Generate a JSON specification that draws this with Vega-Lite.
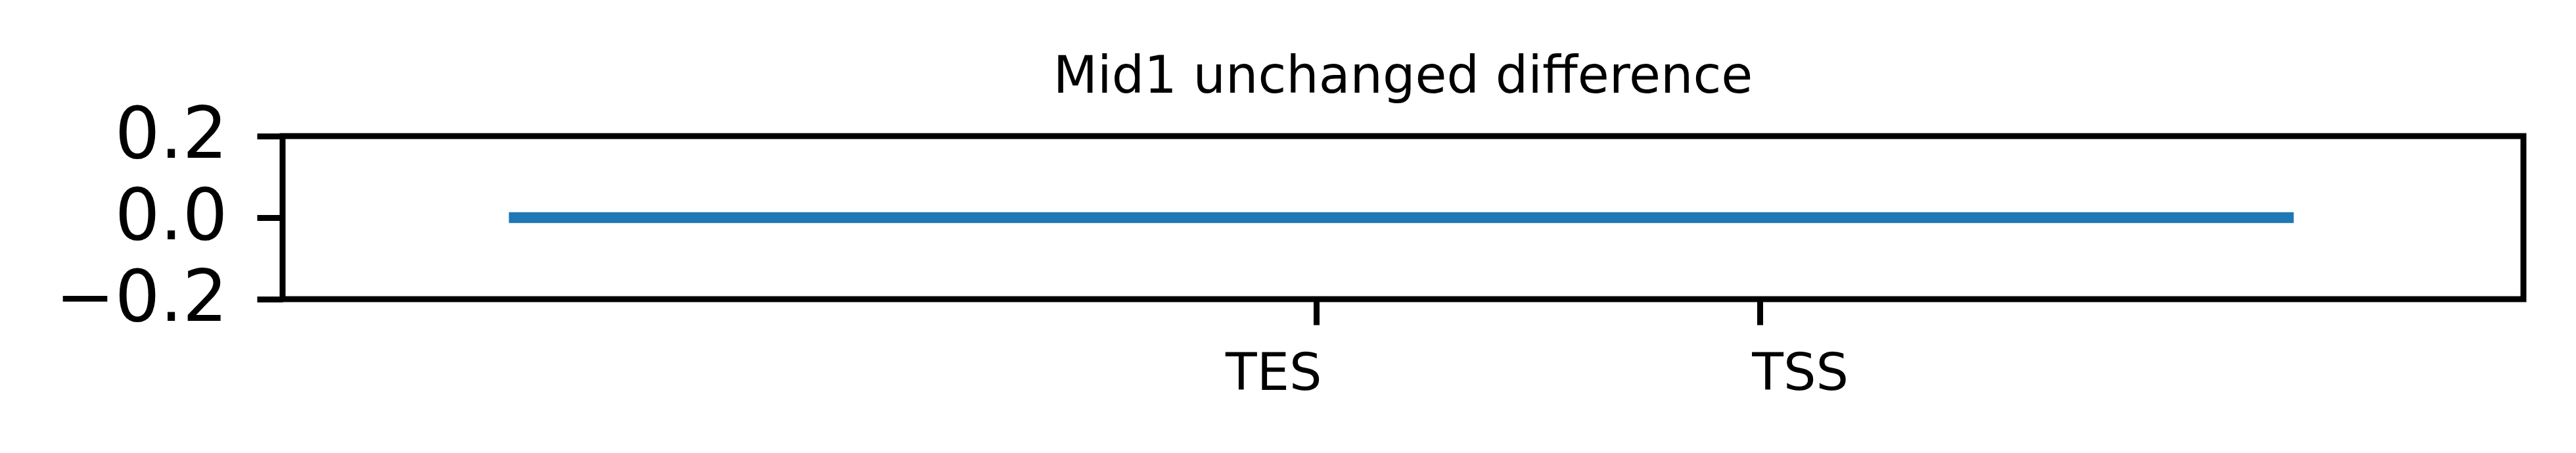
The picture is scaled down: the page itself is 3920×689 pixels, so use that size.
{
  "$schema": "https://vega.github.io/schema/vega-lite/v6.json",
  "autosize": {"type": "none"},
  "width": 3410,
  "height": 248,
  "padding": {"left": 430, "top": 207, "right": 80, "bottom": 234},
  "background": "white",
  "title": {
    "text": "Mid1 unchanged difference",
    "font": "DejaVu Sans",
    "fontSize": 78,
    "fontWeight": "normal",
    "color": "black",
    "anchor": "middle",
    "frame": "group",
    "baseline": "alphabetic",
    "offset": -66
  },
  "config": {
    "view": {"stroke": "black", "strokeWidth": 9},
    "axis": {"grid": false, "domain": false, "labelFont": "DejaVu Sans", "labelColor": "black", "tickColor": "black", "title": null, "labelLimit": 0}
  },
  "data": {
    "values": [
      {"pos": 10.1, "diff": 0},
      {"pos": 89.75, "diff": 0}
    ]
  },
  "mark": {"type": "line", "color": "#1f77b4", "strokeWidth": 16.5, "strokeCap": "butt"},
  "encoding": {
    "x": {
      "field": "pos",
      "type": "quantitative",
      "scale": {"domain": [0, 100], "nice": false, "zero": false},
      "axis": {
        "values": [46.13, 65.92],
        "labelExpr": "datum.value < 55 ? 'TES' : 'TSS'",
        "labelAlign": {"condition": {"test": "datum.value < 55", "value": "right"}, "value": "left"},
        "labelOffset": {"condition": {"test": "datum.value < 55", "value": 8}, "value": -12},
        "labelFontSize": 78,
        "labelPadding": 36,
        "labelFlush": false,
        "labelOverlap": false,
        "tickSize": 39,
        "tickWidth": 9
      }
    },
    "y": {
      "field": "diff",
      "type": "quantitative",
      "scale": {"domain": [-0.2, 0.2], "nice": false, "zero": false},
      "axis": {
        "values": [-0.2, 0, 0.2],
        "format": ".1f",
        "labelFontSize": 108,
        "labelPadding": 45,
        "labelFlush": false,
        "labelOverlap": false,
        "tickSize": 39,
        "tickWidth": 9
      }
    }
  }
}
